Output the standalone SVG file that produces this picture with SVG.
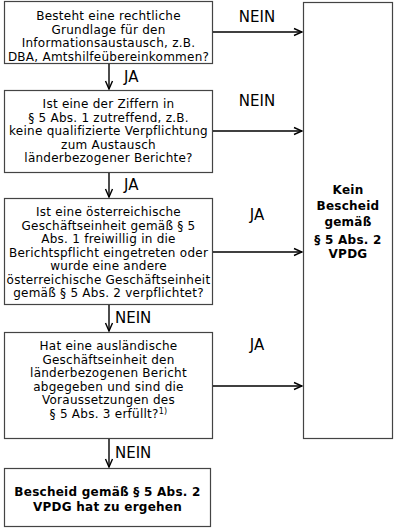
<svg xmlns="http://www.w3.org/2000/svg" width="395" height="529" viewBox="0 0 395 529">
<defs>
<marker id="ah" viewBox="0 0 10 10" refX="9" refY="5" markerWidth="10" markerHeight="10" markerUnits="userSpaceOnUse" orient="auto">
<polyline points="1,1.5 9,5 1,8.5" fill="none" stroke="#000" stroke-width="1.4"/>
</marker>
<style>
.box{fill:#fff;stroke:#444;stroke-width:1.2}
.t{font-family:"DejaVu Sans","Verdana",sans-serif;font-size:12px;letter-spacing:0.25px;fill:#000;text-anchor:middle}
.b{font-weight:bold}
.lbl{font-family:"DejaVu Sans","Verdana",sans-serif;font-size:15px;fill:#000}
.c{stroke:#000;stroke-width:1.4;fill:none;marker-end:url(#ah)}
.sup{font-size:8px}
</style>
</defs>
<g id="n1">
<rect class="box" x="4.5" y="1.5" width="208" height="62"/>
<text class="t" x="108.5" y="20">Besteht eine rechtliche</text>
<text class="t" x="108.5" y="33.5">Grundlage für den</text>
<text class="t" x="108.5" y="47">Informationsaustausch, z.B.</text>
<text class="t" x="108.5" y="60.5">DBA, Amtshilfeübereinkommen?</text>
</g>
<g id="n2">
<rect class="box" x="4.5" y="90.5" width="208" height="82"/>
<text class="t" x="108.5" y="108">Ist eine der Ziffern in</text>
<text class="t" x="108.5" y="121.5">§ 5 Abs. 1 zutreffend, z.B.</text>
<text class="t" x="108.5" y="135">keine qualifizierte Verpflichtung</text>
<text class="t" x="108.5" y="148.5">zum Austausch</text>
<text class="t" x="108.5" y="162">länderbezogener Berichte?</text>
</g>
<g id="n3">
<rect class="box" x="4.5" y="198.5" width="208" height="106"/>
<text class="t" x="108.5" y="216">Ist eine österreichische</text>
<text class="t" x="108.5" y="229.5">Geschäftseinheit gemäß § 5</text>
<text class="t" x="108.5" y="243">Abs. 1 freiwillig in die</text>
<text class="t" x="108.5" y="256.5">Berichtspflicht eingetreten oder</text>
<text class="t" x="108.5" y="270">wurde eine andere</text>
<text class="t" x="108.5" y="283.5">österreichische Geschäftseinheit</text>
<text class="t" x="108.5" y="297">gemäß § 5 Abs. 2 verpflichtet?</text>
</g>
<g id="n4">
<rect class="box" x="4.5" y="332.5" width="208" height="106"/>
<text class="t" x="108.5" y="350">Hat eine ausländische</text>
<text class="t" x="108.5" y="363.5">Geschäftseinheit den</text>
<text class="t" x="108.5" y="377">länderbezogenen Bericht</text>
<text class="t" x="108.5" y="390.5">abgegeben und sind die</text>
<text class="t" x="108.5" y="404">Voraussetzungen des</text>
<text class="t" x="108.5" y="417.5">§ 5 Abs. 3 erfüllt?<tspan class="sup" dy="-4">1)</tspan></text>
</g>
<g id="n5">
<rect class="box" x="4.5" y="468.5" width="206" height="58"/>
<text class="t b" x="107.5" y="496">Bescheid gemäß § 5 Abs. 2</text>
<text class="t b" x="107.5" y="511">VPDG hat zu ergehen</text>
</g>
<g id="n6">
<rect class="box" x="303.5" y="2.5" width="89" height="436"/>
<text class="t b" x="348" y="194">Kein</text>
<text class="t b" x="348" y="210">Bescheid</text>
<text class="t b" x="348" y="226">gemäß</text>
<text class="t b" x="348" y="244">§ 5 Abs. 2</text>
<text class="t b" x="348" y="258">VPDG</text>
</g>
<g id="connectors">
<line class="c" x1="109" y1="64" x2="109" y2="89"/>
<line class="c" x1="109" y1="173" x2="109" y2="197"/>
<line class="c" x1="109" y1="305" x2="109" y2="331"/>
<line class="c" x1="109" y1="439" x2="109" y2="467"/>
<line class="c" x1="213" y1="32" x2="302" y2="32"/>
<line class="c" x1="213" y1="131" x2="302" y2="131"/>
<line class="c" x1="213" y1="252" x2="302" y2="252"/>
<line class="c" x1="213" y1="386" x2="302" y2="386"/>
<text class="lbl" x="124" y="82">JA</text>
<text class="lbl" x="124" y="190">JA</text>
<text class="lbl" x="115" y="323">NEIN</text>
<text class="lbl" x="115" y="458">NEIN</text>
<text class="lbl" x="257" y="22" text-anchor="middle">NEIN</text>
<text class="lbl" x="257" y="106" text-anchor="middle">NEIN</text>
<text class="lbl" x="257" y="220" text-anchor="middle">JA</text>
<text class="lbl" x="257" y="350" text-anchor="middle">JA</text>
</g>
</svg>
